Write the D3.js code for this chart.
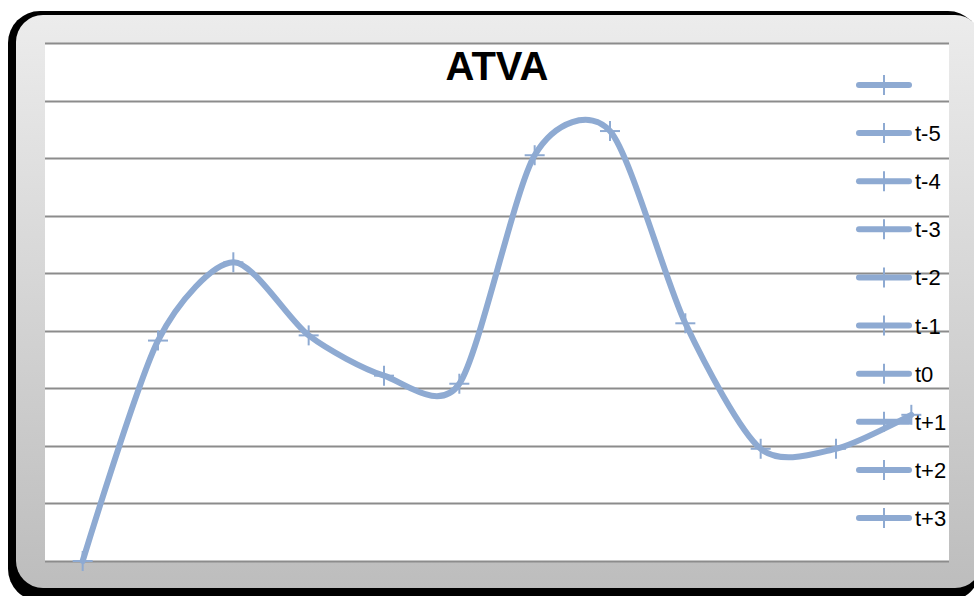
<!DOCTYPE html>
<html><head><meta charset="utf-8">
<script src="https://cdn.jsdelivr.net/npm/d3@7"></script>
<style>html,body{margin:0;padding:0;background:#fff;overflow:hidden}</style>
</head><body>
<svg id="c" width="974" height="596"></svg>
<script>
const title = "ATVA";
const categories = ["1","2","3","4","5","6","7","8","9","10","11","12"];
const values = [0, 3.83, 5.19, 3.92, 3.22, 3.08, 7.05, 7.47, 4.13, 1.95, 1.95, 2.54];
const gridTicks = [0,1,2,3,4,5,6,7,8,9];
const legendLabels = ["", "t-5", "t-4", "t-3", "t-2", "t-1", "t0", "t+1", "t+2", "t+3"];
const lineColor = "#8eaad2";

const svg = d3.select("#c");
const defs = svg.append("defs");
const g = defs.append("linearGradient").attr("id","bg").attr("x1",0).attr("y1",0).attr("x2",0).attr("y2",1);
g.append("stop").attr("offset","0%").attr("stop-color","#ececec");
g.append("stop").attr("offset","100%").attr("stop-color","#bdbdbd");

svg.append("rect").attr("x",8).attr("y",11).attr("width",972).attr("height",590).attr("rx",32).attr("fill","#000");
svg.append("rect").attr("x",16).attr("y",15).attr("width",966).attr("height",573).attr("rx",27).attr("fill","url(#bg)");

const plot = {l:45, r:949, t:43, b:561};
svg.append("rect").attr("x",plot.l).attr("y",plot.t).attr("width",plot.r-plot.l).attr("height",plot.b-plot.t).attr("fill","#fff");

const x = d3.scalePoint().domain(categories).range([plot.l, plot.r]).padding(0.5);
const y = d3.scaleLinear().domain([0,9]).range([plot.b, plot.t]);

svg.append("g").selectAll("line").data(gridTicks).join("line")
  .attr("x1",plot.l).attr("x2",plot.r)
  .attr("y1",d=>Math.round(y(d))+0.5).attr("y2",d=>Math.round(y(d))+0.5)
  .attr("stroke","#8c8c8c").attr("stroke-width",2);

const data = categories.map((c,i)=>({c, v: values[i]}));
const line = d3.line().x(d=>x(d.c)).y(d=>y(d.v)).curve(d3.curveCardinal.tension(0.2));
svg.append("path").datum(data).attr("d",line).attr("fill","none")
  .attr("stroke",lineColor).attr("stroke-width",6).attr("stroke-linecap","round").attr("stroke-linejoin","round");

const ms = 10;
const mk = svg.append("g").selectAll("g").data(data).join("g")
  .attr("transform",d=>`translate(${x(d.c)},${y(d.v)})`);
mk.append("line").attr("x1",-ms).attr("x2",ms).attr("stroke",lineColor).attr("stroke-width",2);
mk.append("line").attr("y1",-ms).attr("y2",ms).attr("stroke",lineColor).attr("stroke-width",2);

svg.append("text").attr("x",497).attr("y",80).attr("text-anchor","middle")
  .attr("font-family","Liberation Sans, Arial, sans-serif").attr("font-weight","bold").attr("font-size",40)
  .text(title);

const ly = d3.scalePoint().domain(legendLabels.map((d,i)=>i)).range([85,518]);
const lg = svg.append("g").selectAll("g").data(legendLabels).join("g")
  .attr("transform",(d,i)=>`translate(0,${ly(i)})`);
lg.append("line").attr("x1",859).attr("x2",909).attr("stroke",lineColor).attr("stroke-width",6).attr("stroke-linecap","round");
lg.append("line").attr("x1",884).attr("x2",884).attr("y1",-10).attr("y2",10).attr("stroke",lineColor).attr("stroke-width",2);
lg.append("text").attr("x",915).attr("y",8).attr("font-family","Liberation Sans, Arial, sans-serif").attr("font-size",22).attr("fill","#000").text(d=>d);
</script>
</body></html>
